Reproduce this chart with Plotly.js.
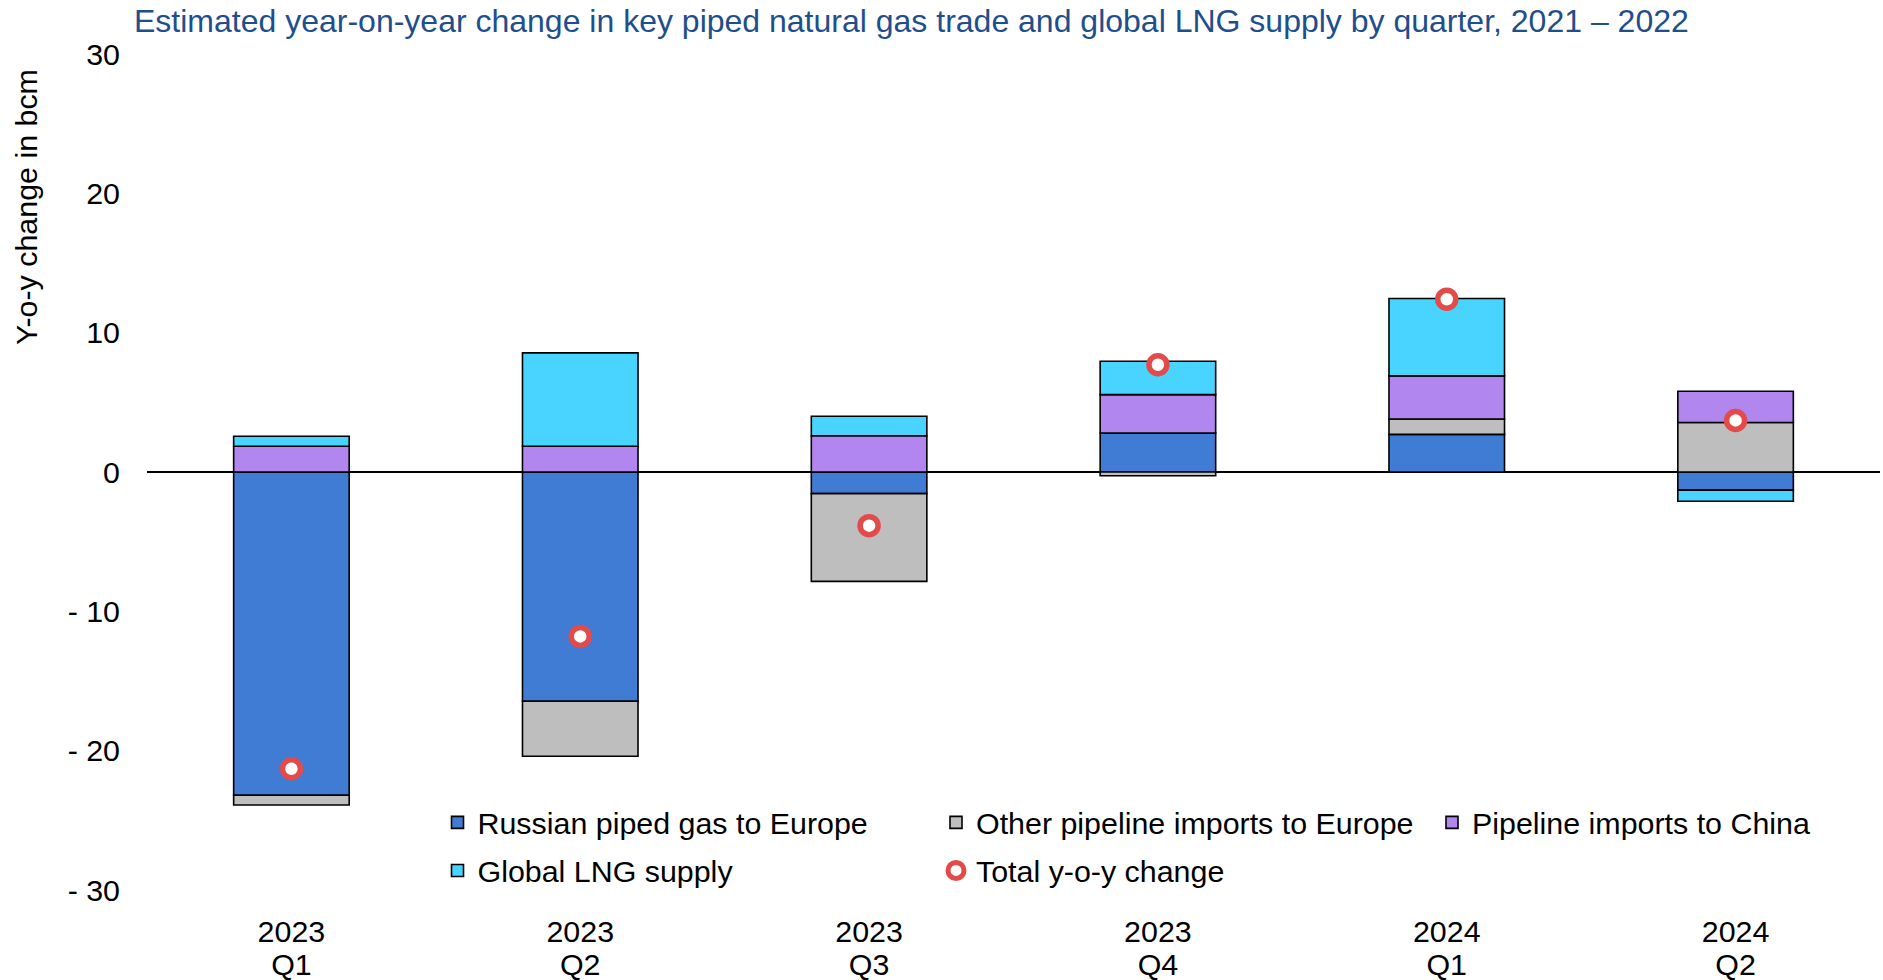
<!DOCTYPE html>
<html>
<head>
<meta charset="utf-8">
<script src="https://cdn.plot.ly/plotly-3.0.1.min.js"></script>
<style>html,body{margin:0;padding:0;background:#fff;} #chart{width:1883px;height:980px;}</style>
</head>
<body>
<div id="chart"></div>
<script>
var categories = ["2023 Q1", "2023 Q2", "2023 Q3", "2023 Q4", "2024 Q1", "2024 Q2"];
var yearLabels = ["2023", "2023", "2023", "2023", "2024", "2024"];
var quarterLabels = ["Q1", "Q2", "Q3", "Q4", "Q1", "Q2"];
var russianPiped = [-23.2, -16.45, -1.55, 2.8, 2.7, -1.3];
var otherPipeline = [-0.7, -3.95, -6.3, -0.27, 1.1, 3.55];
var chinaPipeline = [1.85, 1.85, 2.6, 2.75, 3.1, 2.25];
var globalLNG = [0.72, 6.7, 1.4, 2.4, 5.55, -0.8];
var totalChange = [-21.3, -11.8, -3.85, 7.7, 12.4, 3.7];
var yTickVals = [-30, -20, -10, 0, 10, 20, 30];
var yTickText = ["- 30", "- 20", "- 10", "0", "10", "20", "30"];

var FONT = "Liberation Sans, Arial, sans-serif";
var FS = 30.4;
var outline = {color: "#000000", width: 1.6};

// plot area geometry (px) used to place the legend boxes
var PL = 147, PW = 1733, PB = 890, PH = 836;

function barTrace(name, values, color, legendId) {
  return {
    type: "bar", name: name, x: categories, y: values,
    marker: {color: color, line: outline},
    legend: legendId, hoverinfo: "skip"
  };
}

var traces = [
  barTrace("Russian piped gas to Europe", russianPiped, "#407CD4", "legend"),
  barTrace("Other pipeline imports to Europe", otherPipeline, "#BEBEBE", "legend2"),
  barTrace("Pipeline imports to China", chinaPipeline, "#B186EE", "legend3"),
  barTrace("Global LNG supply", globalLNG, "#48D4FF", "legend4"),
  {
    type: "scatter", mode: "markers", name: "Total y-o-y change",
    x: categories, y: totalChange, xaxis: "x2", yaxis: "y", legend: "legend5",
    marker: {symbol: "circle", size: 18, color: "#FFFFFF", line: {color: "#E34A4A", width: 5.5}},
    hoverinfo: "skip"
  }
];

function legendAt(symbolCenterX, rowCenterY) {
  return {
    orientation: "h", xref: "paper", yref: "paper",
    x: (symbolCenterX - 20 - PL) / PW, xanchor: "left",
    y: (PB - rowCenterY) / PH, yanchor: "middle",
    font: {family: FONT, size: FS, color: "#000000"}, bgcolor: "rgba(0,0,0,0)",
    borderwidth: 0, itemclick: false, itemdoubleclick: false
  };
}

var xCommon = {
  type: "category", categoryorder: "array", categoryarray: categories,
  range: [-0.5, 5.5], showgrid: false, showline: false, zeroline: false,
  ticks: "", tickmode: "array", tickvals: categories,
  tickfont: {family: FONT, size: FS, color: "#000000"}, fixedrange: true
};

var layout = {
  width: 1883, height: 980,
  margin: {l: PL, r: 3, t: 54, b: 90, pad: 0},
  paper_bgcolor: "#FFFFFF", plot_bgcolor: "#FFFFFF",
  font: {family: FONT, size: FS, color: "#000000"},
  barmode: "relative", bargap: 0.6,
  showlegend: true,
  title: {
    text: "Estimated year-on-year change in key piped natural gas trade and global LNG supply by quarter, 2021 \u2013 2022",
    font: {family: FONT, size: 32, color: "#1F4E8C"},
    xref: "container", yref: "container", x: 134 / 1883, xanchor: "left", y: 1 - 21 / 980, yanchor: "middle"
  },
  xaxis: Object.assign({}, xCommon, {ticktext: yearLabels, ticklabelstandoff: 21}),
  xaxis2: Object.assign({}, xCommon, {ticktext: quarterLabels, ticklabelstandoff: 54,
    overlaying: "x", anchor: "y", side: "bottom"}),
  yaxis: {
    range: [-30, 30], tickmode: "array", tickvals: yTickVals, ticktext: yTickText,
    showgrid: false, showline: false,
    zeroline: true, zerolinecolor: "#000000", zerolinewidth: 1.6,
    ticks: "", ticklabelstandoff: 26, tickfont: {family: FONT, size: FS, color: "#000000"}, fixedrange: true
  },
  legend: legendAt(457.5, 822.6),
  legend2: legendAt(956, 822.6),
  legend3: legendAt(1452, 822.6),
  legend4: legendAt(457.5, 870.7),
  legend5: legendAt(956, 870.7),
  annotations: [{
    text: "Y-o-y change in bcm", textangle: -90, xref: "paper", yref: "paper",
    x: (26 - PL) / PW, y: (PB - 207) / PH, xanchor: "center", yanchor: "middle",
    showarrow: false, font: {family: FONT, size: FS, color: "#000000"}
  }]
};

Plotly.newPlot("chart", traces, layout, {displayModeBar: false, staticPlot: true});
</script>
</body>
</html>
